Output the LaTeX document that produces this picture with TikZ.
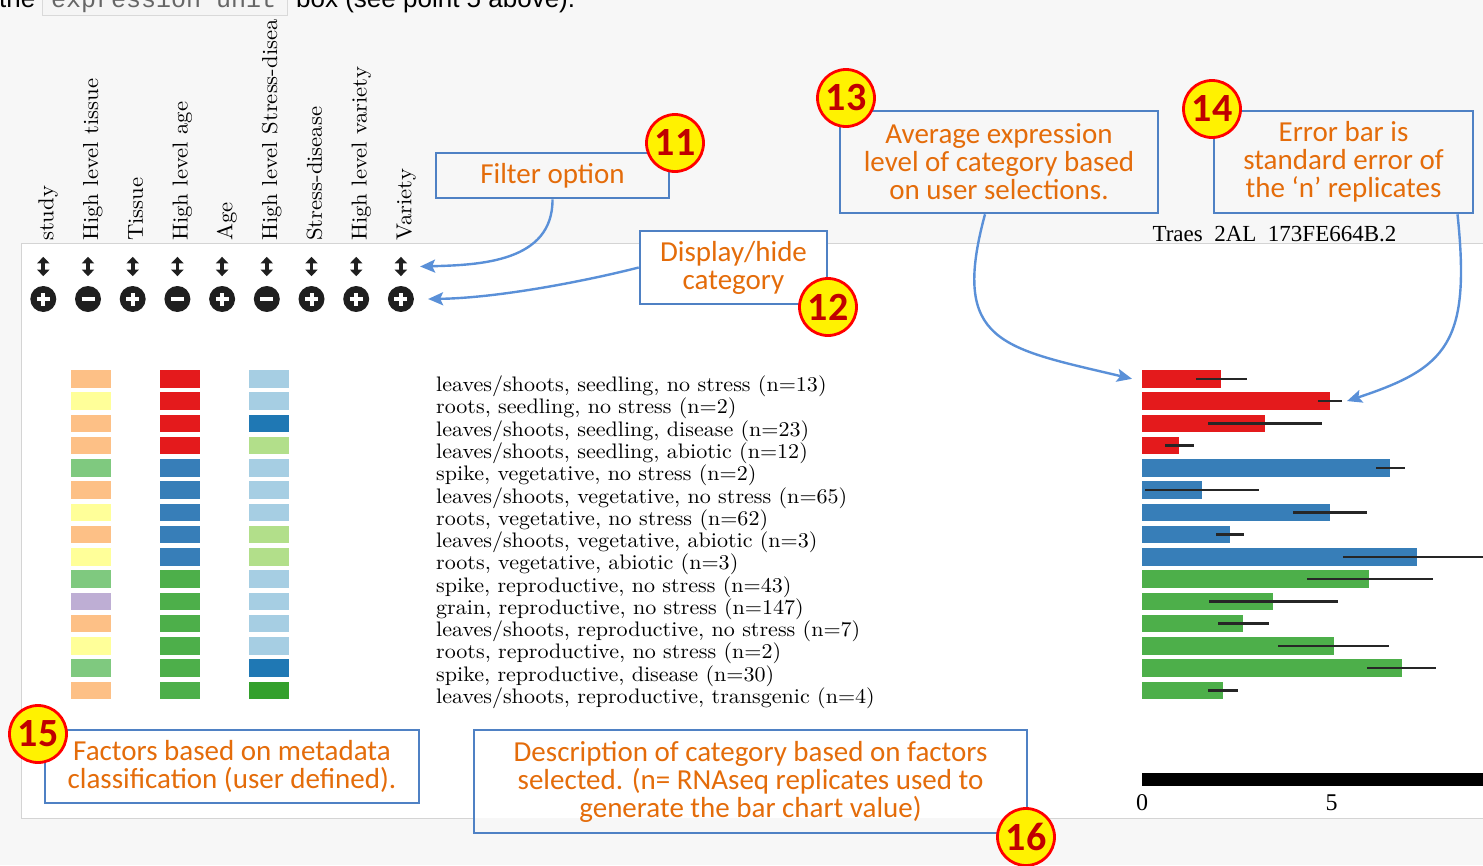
\documentclass[tikz,border=0pt]{standalone}
\usepackage{fontspec}
\usepackage{tikz}
\usetikzlibrary{arrows.meta,positioning}
\newfontfamily\calfont{Carlito}
\newfontfamily\timesfont{Liberation Serif}
\newfontfamily\arialfont{Liberation Sans}
\newfontfamily\courfont{Liberation Mono}
\newfontfamily\labfont[FakeStretch=1.05]{lmroman10-regular.otf}
\definecolor{pagegray}{HTML}{F7F7F7}
\definecolor{panelline}{HTML}{D4D4D4}
\definecolor{boxblue}{HTML}{4F81C4}
\definecolor{arrowblue}{HTML}{5A90D8}
\definecolor{calloutorange}{HTML}{E46C0A}
\definecolor{badgered}{HTML}{C00000}
\definecolor{tpeach}{HTML}{FDC086}
\definecolor{tyellow}{HTML}{FFFF99}
\definecolor{tgreen}{HTML}{7FC97F}
\definecolor{tpurple}{HTML}{BEAED4}
\definecolor{ared}{HTML}{E41A1C}
\definecolor{ablue}{HTML}{377EB8}
\definecolor{agreen}{HTML}{4DAF4A}
\definecolor{slblue}{HTML}{A6CEE3}
\definecolor{sdblue}{HTML}{1F78B4}
\definecolor{slgreen}{HTML}{B2DF8A}
\definecolor{sdgreen}{HTML}{33A02C}

\begin{document}
\begin{tikzpicture}[x=1pt, y=-1pt,
  box/.style={draw=boxblue, line width=2.6pt, align=center, inner sep=0pt,
              text=calloutorange, font=\calfont\fontsize{29}{28}\selectfont},
  badge/.style={circle, draw=red, line width=2.8pt, fill=yellow, inner sep=0pt,
                minimum size=57pt, text=badgered,
                font=\calfont\bfseries\fontsize{40}{40}\selectfont},
  arr/.style={-{Stealth[length=15pt,width=13pt,inset=3pt]}, arrowblue, line width=2.4pt},
  hdr/.style={rotate=90, anchor=base west, inner sep=0pt, font=\labfont\fontsize{21.6}{22}\selectfont},
  sorticon/.style={minimum width=12pt, minimum height=19pt, inner sep=0pt},
  updown/.style={{Triangle[width=12pt,length=6.5pt]}-{Triangle[width=12pt,length=6.5pt]},
                 line width=3.8pt, black!88},
  togglebtn/.style={circle, fill=black!88, minimum size=26pt, inner sep=0pt},
  sign/.style={white, line width=4pt},
  rowlab/.style={anchor=base west, inner sep=0pt, font=\labfont\fontsize{21}{21}\selectfont},
  errbar/.style={black!85, line width=2.4pt}]
\useasboundingbox (0,0) rectangle (1483,865);
\clip (0,0) rectangle (1483,865);
\fill[pagegray] (0,0) rectangle (1483,865);

\fill[black!4, draw=black!15] (42,-30) rectangle (287,15);
\node[anchor=base west, inner sep=0pt, font=\arialfont\fontsize{26}{26}\selectfont] (intro) at (-1,7) {the};
\node[anchor=base west, inner sep=0pt, text=black!60, font=\courfont\fontsize{25}{25}\selectfont] (unit) at (51,7) {expression unit};
\node[anchor=base west, inner sep=0pt, font=\arialfont\fontsize{26}{26}\selectfont] (introend) at (296,7) {box (see point 5 above).};

\fill[white] (21,243) rectangle (1500,818);
\draw[panelline] (474,818) -| (21,243) -- (1500,243);
\draw[panelline] (1027,818) -- (1500,818);
\node[anchor=base, inner sep=0pt, font=\timesfont\fontsize{23}{23}\selectfont] (gene) at (1274.5,241) {Traes\ \ 2AL\ \ 173FE664B.2};

\foreach \hd/\sg [count=\i] in {study/p, High level tissue/m, Tissue/p, High level age/m, Age/p,
    High level Stress-disea/m, Stress-disease/p, High level variety/p, Variety/p} {
  \node[hdr] (hd\i) at ({53.3+44.75*(\i-1)},241) {\hd};
  \node[sorticon] (sort\i) at ({43.3+44.7*(\i-1)},266.5) {};
  \draw[updown] (sort\i.north) -- (sort\i.south);
  \node[togglebtn] (tog\i) at ({43.3+44.7*(\i-1)},299) {};
  \draw[sign] ([xshift=-6.5pt]tog\i.center) -- ([xshift=6.5pt]tog\i.center);
  \if\sg p\draw[sign] ([yshift=-6.5pt]tog\i.center) -- ([yshift=6.5pt]tog\i.center);\fi
}

\foreach \lab/\tc/\ac/\sc/\bx/\lo/\hi [count=\i, evaluate=\i as \yc using 378.8+22.26*(\i-1)] in {
    {leaves/shoots, seedling, no stress (n=13)}/tpeach/ared/slblue/1221/1196/1247,
    {roots, seedling, no stress (n=2)}/tyellow/ared/slblue/1330/1318/1342,
    {leaves/shoots, seedling, disease (n=23)}/tpeach/ared/sdblue/1265/1208/1322,
    {leaves/shoots, seedling, abiotic (n=12)}/tpeach/ared/slgreen/1179/1165/1194,
    {spike, vegetative, no stress (n=2)}/tgreen/ablue/slblue/1390/1376/1405,
    {leaves/shoots, vegetative, no stress (n=65)}/tpeach/ablue/slblue/1202/1145/1259,
    {roots, vegetative, no stress (n=62)}/tyellow/ablue/slblue/1330/1293/1367,
    {leaves/shoots, vegetative, abiotic (n=3)}/tpeach/ablue/slgreen/1230/1216/1244,
    {roots, vegetative, abiotic (n=3)}/tyellow/ablue/slgreen/1417/1343/1490,
    {spike, reproductive, no stress (n=43)}/tgreen/agreen/slblue/1369/1307/1433,
    {grain, reproductive, no stress (n=147)}/tpurple/agreen/slblue/1273/1209/1338,
    {leaves/shoots, reproductive, no stress (n=7)}/tpeach/agreen/slblue/1243/1218/1269,
    {roots, reproductive, no stress (n=2)}/tyellow/agreen/slblue/1334/1278/1389,
    {spike, reproductive, disease (n=30)}/tgreen/agreen/sdblue/1402/1367/1436,
    {leaves/shoots, reproductive, transgenic (n=4)}/tpeach/agreen/sdgreen/1223/1208/1238} {
  \fill[\tc] (70.5,\yc-8.8) rectangle (110.5,\yc+8.8);
  \fill[\ac] (160,\yc-8.8) rectangle (200,\yc+8.8);
  \fill[\sc] (249,\yc-8.8) rectangle (289,\yc+8.8);
  \node[rowlab] (lab\i) at (436,\yc+12.9) {\lab};
  \coordinate (bar\i) at (1142,\yc);
  \fill[\ac] (1142,\yc-8.8) rectangle (\bx,\yc+8.8);
  \coordinate (errhi\i) at (\hi,\yc);
  \draw[errbar] (\lo,\yc) -- (errhi\i);
}

\fill[black] (1142,773) rectangle (1500,786);
\node[anchor=base, inner sep=0pt, font=\timesfont\fontsize{24}{24}\selectfont] (tick0) at (1142,810) {0};
\node[anchor=base, inner sep=0pt, font=\timesfont\fontsize{24}{24}\selectfont] (tick5) at (1331.5,810) {5};

\node[box, minimum width=233pt, minimum height=45pt] (filter) at (552.5,175.5) {Filter option};
\node[box, fill=white, minimum width=187pt, minimum height=73pt] (disp) at (733.5,267.5) {Display/hide\\category};
\node[box, minimum width=318pt, minimum height=102pt] (avg) at (999,162) {Average expression\\level of category based\\on user selections.};
\node[box, minimum width=259pt, minimum height=102pt] (errbox) at (1343.5,162) {Error bar is\\standard error of\\the ‘n’ replicates};
\node[box, minimum width=374pt, minimum height=73pt] (fact) at (232,766.5) {Factors based on metadata\\classification (user defined).};
\node[box, minimum width=553pt, minimum height=103pt] (desc) at (750.5,781.5) {Description of category based on factors\\selected. (n= RNAseq replicates used to\\generate the bar chart value)};

\draw[arr] (filter.south) .. controls (553,262) and (480,265) .. ([xshift=13pt]sort9.east);
\draw[arr] (disp.west) .. controls (590,280) and (500,298) .. ([xshift=14pt]tog9.east);
\draw[arr] ([xshift=-14pt]avg.south) .. controls (950,343) and (1002,348) .. ([xshift=-10pt]bar1);
\draw[arr] ([xshift=114pt]errbox.south) .. controls (1471,343) and (1447,368) .. ([xshift=5pt]errhi2);

\node[badge] (b11) at (675,143) {11};
\node[badge] (b12) at (828,307) {12};
\node[badge] (b13) at (846,98) {13};
\node[badge] (b14) at (1212,109) {14};
\node[badge] (b15) at (38,734) {15};
\node[badge] (b16) at (1026,837) {16};
\end{tikzpicture}
\end{document}
